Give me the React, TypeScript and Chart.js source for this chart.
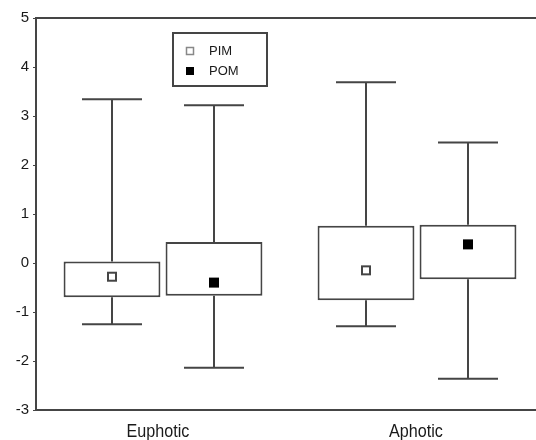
import React, { useEffect, useRef } from 'react';
import { Chart, registerables } from 'chart.js';

Chart.register(...registerables);

const categories = ['Euphotic', 'Aphotic'];
const seriesNames = ['PIM', 'POM'];

const pimMean = [-0.28, -0.15];
const pimBoxLow = [-0.7, -0.76];
const pimBoxHigh = [0.03, 0.76];
const pimMin = [-1.25, -1.29];
const pimMax = [3.34, 3.69];

const pomMean = [-0.4, 0.38];
const pomBoxLow = [-0.67, -0.33];
const pomBoxHigh = [0.43, 0.78];
const pomMin = [-2.14, -2.36];
const pomMax = [3.22, 2.46];

const yMin = -3;
const yMax = 5;
const yStep = 1;

const LINE = '#454545';
const TEXT = '#1a1a1a';

const series = [
  { mean: pimMean, lo: pimBoxLow, hi: pimBoxHigh, min: pimMin, max: pimMax, filled: false },
  { mean: pomMean, lo: pomBoxLow, hi: pomBoxHigh, min: pomMin, max: pomMax, filled: true },
];

const labelNudge = [-5, -1];

const boxPlugin = {
  id: 'boxExtras',
  afterDatasetsDraw(chart: any) {
    const ctx = chart.ctx;
    const y = chart.scales.y;
    const xs = chart.scales.x;
    const area = chart.chartArea;
    ctx.save();
    ctx.strokeStyle = LINE;
    ctx.lineWidth = 2;
    // top frame line
    ctx.beginPath();
    ctx.moveTo(area.left, area.top);
    ctx.lineTo(area.right, area.top);
    ctx.stroke();

    series.forEach((s, d) => {
      const meta = chart.getDatasetMeta(d);
      meta.data.forEach((bar: any, i: number) => {
        const x = Math.round(bar.x);
        const cap = 30;
        const yHi = y.getPixelForValue(s.hi[i]);
        const yLo = y.getPixelForValue(s.lo[i]);
        const yMaxP = y.getPixelForValue(s.max[i]);
        const yMinP = y.getPixelForValue(s.min[i]);
        ctx.lineWidth = 2;
        ctx.strokeStyle = LINE;
        ctx.beginPath();
        ctx.moveTo(x, yHi);
        ctx.lineTo(x, yMaxP);
        ctx.moveTo(x - cap, yMaxP);
        ctx.lineTo(x + cap, yMaxP);
        ctx.moveTo(x, yLo);
        ctx.lineTo(x, yMinP);
        ctx.moveTo(x - cap, yMinP);
        ctx.lineTo(x + cap, yMinP);
        ctx.stroke();
        // mean marker
        const ym = y.getPixelForValue(s.mean[i]);
        const h = 5;
        if (s.filled) {
          ctx.fillStyle = '#000';
          ctx.fillRect(x - h, ym - h, 2 * h, 2 * h);
        } else {
          ctx.fillStyle = '#fff';
          ctx.fillRect(x - h, ym - h, 2 * h, 2 * h);
          ctx.lineWidth = 2;
          ctx.strokeRect(x - h + 1, ym - h + 1, 2 * h - 2, 2 * h - 2);
        }
      });
    });

    // category labels (condensed)
    ctx.fillStyle = TEXT;
    ctx.font = "19px 'Liberation Sans', Arial, sans-serif";
    ctx.textAlign = 'center';
    ctx.textBaseline = 'alphabetic';
    categories.forEach((c, i) => {
      const cx = xs.getPixelForValue(i);
      ctx.save();
      ctx.translate(cx + labelNudge[i], area.bottom + 27);
      ctx.scale(0.85, 1);
      ctx.fillText(c, 0, 0);
      ctx.restore();
    });

    // legend
    const lx = 173, ly = 33, lw = 94, lh = 53;
    ctx.fillStyle = '#fff';
    ctx.fillRect(lx, ly, lw, lh);
    ctx.lineWidth = 2;
    ctx.strokeStyle = LINE;
    ctx.strokeRect(lx, ly, lw, lh);
    const rows = [51, 71];
    seriesNames.forEach((name, k) => {
      const cy = rows[k];
      if (series[k].filled) {
        ctx.fillStyle = '#000';
        ctx.fillRect(186, cy - 4, 8, 8);
      } else {
        ctx.strokeStyle = '#888';
        ctx.lineWidth = 1.5;
        ctx.strokeRect(186.5, cy - 3.5, 7, 7);
      }
      ctx.fillStyle = TEXT;
      ctx.font = "13px 'Liberation Sans', Arial, sans-serif";
      ctx.textBaseline = 'middle';
      ctx.textAlign = 'left';
      ctx.fillText(name, 209, cy);
    });
    ctx.restore();
  },
};

export default function App() {
  const ref = useRef<HTMLCanvasElement | null>(null);

  useEffect(() => {
    if (!ref.current) return;
    const chart = new Chart(ref.current, {
      type: 'bar',
      data: {
        labels: categories,
        datasets: series.map((s, d) => ({
          label: seriesNames[d],
          data: categories.map((_, i) => [s.lo[i], s.hi[i]]),
          backgroundColor: '#ffffff',
          borderColor: LINE,
          borderWidth: 2,
          borderSkipped: false,
          categoryPercentage: 0.803,
          barPercentage: 0.95,
        })),
      },
      options: {
        animation: false,
        responsive: false,
        devicePixelRatio: 1,
        layout: { padding: { top: 18, left: 0, right: 0, bottom: 0 } },
        plugins: {
          legend: { display: false },
          tooltip: { enabled: false },
        },
        scales: {
          x: {
            type: 'category',
            offset: true,
            grid: { display: false, drawTicks: false },
            border: { display: true, color: LINE, width: 2 },
            ticks: { display: false },
            afterFit: (scale: any) => {
              scale.height = 30;
            },
          },
          y: {
            min: yMin,
            max: yMax,
            grid: { display: true, drawOnChartArea: false, drawTicks: true, tickLength: 3, color: LINE },
            border: { display: true, color: LINE, width: 2 },
            ticks: {
              stepSize: yStep,
              padding: 4,
              color: TEXT,
              font: { family: "'Liberation Sans', Arial, sans-serif", size: 15 },
            },
            afterFit: (scale: any) => {
              scale.width = 36;
            },
          },
        },
      },
      plugins: [boxPlugin],
    } as any);
    return () => chart.destroy();
  }, []);

  return (
    <div style={{ position: 'fixed', left: 0, top: 0, width: 536, height: 440, overflow: 'hidden', background: '#fff' }}>
      <canvas ref={ref} width={544} height={440} style={{ display: 'block' }} />
    </div>
  );
}
